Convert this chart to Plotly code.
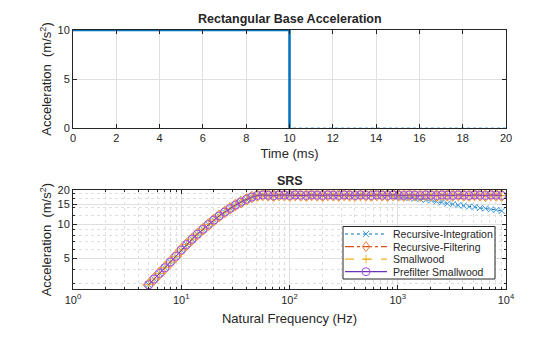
import plotly.graph_objects as go

# ---------------- data ----------------
time_ms = [0, 10, 10, 20]
base_acc = [10, 10, 0, 0]

freq_hz = [5.00, 5.61, 6.30, 7.07, 7.94, 8.91, 10.0, 11.2, 12.6, 14.1, 15.9, 17.8,
           20.0, 22.4, 25.2, 28.3, 31.7, 35.6, 40.0, 44.9, 50.4, 56.6, 63.5, 71.3,
           80.0, 89.8, 100.8, 113, 127, 143, 160, 180, 202, 226, 254, 285, 320, 359,
           403, 453, 508, 570, 640, 718, 806, 905, 1016, 1140, 1280, 1437, 1613, 1810,
           2032, 2281, 2560, 2873, 3225, 3620, 4064, 4561, 5120, 5747, 6451, 7241,
           8128, 9123]

srs_common = [2.95, 3.31, 3.71, 4.16, 4.67, 5.24, 5.95, 6.65, 7.40, 8.20, 9.05, 9.95,
              10.9, 11.85, 12.8, 13.8, 14.75, 15.65, 16.55, 17.35, 17.9, 18.1, 18.0,
              17.85, 18.1, 18.05, 17.9, 18.1, 18.0, 17.9, 18.1, 18.0, 17.9, 18.1, 18.0,
              17.9, 18.1, 18.0, 17.9, 18.1, 18.0, 17.9, 18.1, 18.0, 17.9, 18.1, 18.0,
              17.9, 18.1, 18.0, 17.9, 18.1, 18.0, 17.9, 18.1, 18.0, 17.9, 18.1, 18.0,
              17.9, 18.1, 18.0, 17.9, 18.1, 18.0, 17.9]

srs_integration = srs_common[:44] + [17.8, 17.6, 17.5, 17.2, 17.0, 16.8, 16.6, 16.3,
                                     16.2, 15.8, 15.6, 15.2, 15.0, 14.7, 14.6, 14.3,
                                     14.2, 13.9, 13.8, 13.5, 13.4, 13.1]

series_names = ["Recursive-Integration", "Recursive-Filtering", "Smallwood", "Prefilter Smallwood"]
series_values = [srs_integration, srs_common, srs_common, srs_common]
line_colors = ["#0072BD", "#D95319", "#EDB120", "#7030B8"]
marker_colors = ["#3D9BE0", "#F08040", "#EDB120", "#A050E8"]
line_dashes = ["dot", "dashdot", "dash", "solid"]
marker_symbols = ["x-thin-open", "diamond-open", "cross-thin-open", "circle-open"]
marker_sizes = [6, 9, 8, 8]

x_major = [1, 10, 100, 1000, 10000]
x_major_text = ["10<sup>0</sup>", "10<sup>1</sup>", "10<sup>2</sup>", "10<sup>3</sup>", "10<sup>4</sup>"]
x_minor = [m * d for d in [1, 10, 100, 1000] for m in range(2, 10)]
y_major = [5, 10, 15, 20]
y_minor = [3, 4, 6, 7, 8, 9, 12, 14, 17, 18.5]

W, H = 560, 337
def px(x):
    return x / W
def py(y):
    return 1 - y / H

# ---------------- figure ----------------
fig = go.Figure()
fig.add_trace(go.Scatter(x=time_ms, y=base_acc, mode="lines",
                         line=dict(color="#5BA8E8", width=1, dash="dot"),
                         xaxis="x", yaxis="y", showlegend=False))
fig.add_trace(go.Scatter(x=time_ms[:3], y=base_acc[:3], mode="lines",
                         line=dict(color="#0072BD", width=2.5),
                         xaxis="x", yaxis="y", showlegend=False))

for name, vals, lc, mc, dash, sym, sz in zip(series_names, series_values, line_colors,
                                             marker_colors, line_dashes, marker_symbols,
                                             marker_sizes):
    fig.add_trace(go.Scatter(
        x=freq_hz, y=vals, name=name, mode="lines+markers", showlegend=False,
        line=dict(color=lc, width=1, dash=dash),
        marker=dict(symbol=sym, size=sz, color=mc, line=dict(color=mc, width=1)),
        xaxis="x2", yaxis="y2"))

font = "Liberation Sans, Arial, sans-serif"
axis_common = dict(showline=True, linecolor="#262626", linewidth=1, mirror="ticks",
                   ticks="inside", ticklen=4, tickcolor="#262626", automargin=False,
                   tickfont=dict(size=11, color="#262626", family=font),
                   gridcolor="#DFDFDF", gridwidth=1, zeroline=False)

# ---- legend drawn as a boxed key (decoration) ----
shapes = [dict(type="rect", xref="paper", yref="paper",
               x0=px(343), x1=px(495), y0=py(279), y1=py(226.5),
               line=dict(color="#262626", width=1), fillcolor="white", layer="above")]
annotations = []
row_y = [234, 246.6, 259.2, 271.7]
lx0, lx1, mx = 345, 387, 366
for i, name in enumerate(series_names):
    y = row_y[i]
    shapes.append(dict(type="line", xref="paper", yref="paper",
                       x0=px(lx0), x1=px(lx1), y0=py(y), y1=py(y),
                       line=dict(color=line_colors[i], width=1.2, dash=line_dashes[i]),
                       layer="above"))
    mc = marker_colors[i]
    r = 4
    if i == 0:
        r = 3
        shapes.append(dict(type="path", xref="paper", yref="paper", layer="above",
                           path=f"M {px(mx-r)} {py(y-r)} L {px(mx+r)} {py(y+r)} M {px(mx-r)} {py(y+r)} L {px(mx+r)} {py(y-r)}",
                           line=dict(color=mc, width=1)))
    elif i == 1:
        r = 5
        shapes.append(dict(type="path", xref="paper", yref="paper", layer="above",
                           path=f"M {px(mx)} {py(y-r)} L {px(mx+r*0.75)} {py(y)} L {px(mx)} {py(y+r)} L {px(mx-r*0.75)} {py(y)} Z",
                           line=dict(color=mc, width=1)))
    elif i == 2:
        shapes.append(dict(type="path", xref="paper", yref="paper", layer="above",
                           path=f"M {px(mx-r)} {py(y)} L {px(mx+r)} {py(y)} M {px(mx)} {py(y-r)} L {px(mx)} {py(y+r)}",
                           line=dict(color=mc, width=1)))
    else:
        shapes.append(dict(type="circle", xref="paper", yref="paper", layer="above",
                           x0=px(mx-r), x1=px(mx+r), y0=py(y+r), y1=py(y-r),
                           line=dict(color=mc, width=1)))
    annotations.append(dict(text=name, x=px(391), y=py(y), xref="paper", yref="paper",
                            xanchor="left", yanchor="middle", showarrow=False,
                            font=dict(size=10.5, color="#262626", family=font)))

annotations += [
    dict(text="<b>Rectangular Base Acceleration</b>", x=px(289.5), y=py(19),
         xref="paper", yref="paper", showarrow=False, yanchor="middle",
         font=dict(size=12.5, color="#262626", family=font)),
    dict(text="<b>SRS</b>", x=px(289.5), y=py(181),
         xref="paper", yref="paper", showarrow=False, yanchor="middle",
         font=dict(size=12.5, color="#262626", family=font)),
]

fig.update_layout(
    width=W, height=H,
    margin=dict(l=0, r=0, t=0, b=0),
    paper_bgcolor="white", plot_bgcolor="white",
    font=dict(family=font, color="#262626"),
    showlegend=False,
    xaxis=dict(domain=[px(73), px(506)], range=[0, 20], dtick=2, anchor="y",
               title=dict(text="Time (ms)", font=dict(size=13), standoff=5),
               **axis_common),
    yaxis=dict(domain=[py(128), py(30)], range=[0, 10], dtick=5, anchor="x",
               title=dict(text="Acceleration  (m/s<sup>2</sup>)", font=dict(size=13), standoff=2),
               **axis_common),
    xaxis2=dict(domain=[px(73), px(506)], type="log", range=[0, 4], anchor="y2",
                tickvals=x_major, ticktext=x_major_text,
                minor=dict(tickvals=x_minor, showgrid=True, gridcolor="#DFDFDF", griddash="dot",
                           ticks="inside", ticklen=2, tickcolor="#262626"),
                title=dict(text="Natural Frequency (Hz)", font=dict(size=13), standoff=9),
                **axis_common),
    yaxis2=dict(domain=[py(289.3), py(190)], type="log", range=[0.4298, 1.30103],
                anchor="x2", tickvals=y_major, ticktext=[str(v) for v in y_major],
                minor=dict(tickvals=y_minor, showgrid=True, gridcolor="#DFDFDF", griddash="dot",
                           ticks="inside", ticklen=2, tickcolor="#262626"),
                title=dict(text="Acceleration  (m/s<sup>2</sup>)", font=dict(size=13), standoff=2),
                **axis_common),
    shapes=shapes,
    annotations=annotations,
)

fig.write_html("out.html")
